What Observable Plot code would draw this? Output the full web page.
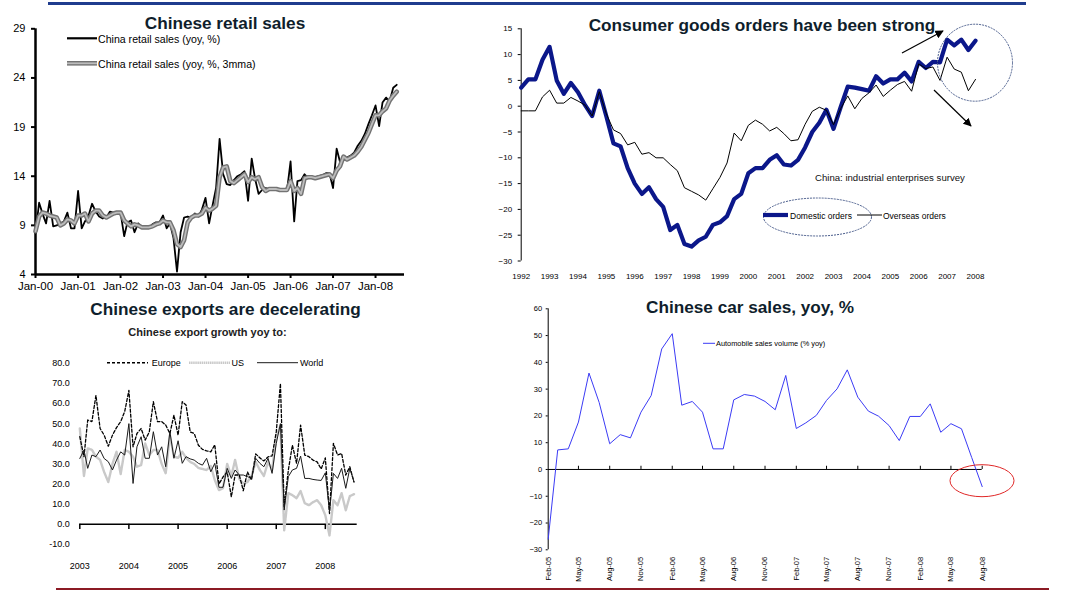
<!DOCTYPE html>
<html><head><meta charset="utf-8">
<script src="https://cdn.jsdelivr.net/npm/d3@7"></script>
<script src="https://cdn.jsdelivr.net/npm/@observablehq/plot@0.6"></script>
<style>
html,body{margin:0;padding:0;background:#fff;}
#root{position:relative;width:1065px;height:591px;overflow:hidden;background:#fff;font-family:"Liberation Sans",Arial,sans-serif;}
.panel{position:absolute;}
#overlay{position:absolute;left:0;top:0;pointer-events:none;}
</style></head><body><div id="root"></div>
<script>
// ---------- Panel 1: Chinese retail sales (monthly from Jan-00) ----------
const retailYoy = [
  8.2, 11.3, 10.2, 9.2, 11.5, 8.9, 9.0, 9.2, 9.4, 10.3, 8.7, 8.7,
  12.5, 8.7, 9.4, 10.0, 11.2, 10.4, 9.9, 9.7, 9.8, 10.4, 10.3, 10.2,
  10.3, 7.9, 9.3, 9.5, 8.3, 9.2, 8.8, 8.8, 8.8, 9.1, 9.3, 9.3,
  10.0, 8.7, 9.2, 7.7, 4.3, 8.3, 9.8, 9.9, 9.8, 10.2, 9.9, 10.6,
  11.8, 9.2, 11.0, 12.8, 17.8, 14.2, 13.2, 13.1, 13.6, 14.0, 14.2, 14.5,
  11.5, 15.8, 13.8, 12.2, 12.6, 12.8, 12.7, 12.7, 12.6, 12.6, 12.6, 12.5,
  15.5, 9.4, 13.5, 13.6, 14.2, 13.8, 13.8, 13.9, 14.0, 14.1, 14.3, 14.3,
  12.8, 16.8, 15.5, 15.8, 15.9, 16.1, 16.4, 17.1, 17.6, 18.3, 19.3, 20.2,
  21.2, 19.1, 21.5, 22.0, 21.6, 23.0, 23.3
];
const retail3mma = [
  8.4, 9.9, 10.3, 10.2, 10.0, 9.9, 9.8, 9.0, 9.2, 9.6, 9.5, 9.2,
  10.0, 10.0, 10.2, 9.4, 10.2, 10.5, 10.5, 10.0, 9.8, 10.0, 10.2, 10.3,
  10.3, 9.5, 9.2, 8.9, 9.1, 9.0, 8.8, 8.8, 8.8, 8.9, 9.1, 9.2,
  9.5, 9.3, 9.3, 8.5, 7.1, 6.8, 7.5, 9.3, 9.8, 10.0, 10.0, 10.2,
  10.8, 10.5, 10.7, 11.0, 13.9, 14.9, 15.0, 13.5, 13.3, 13.6, 13.9, 14.2,
  13.4, 13.9, 13.7, 13.9, 12.9, 12.5, 12.7, 12.7, 12.7, 12.6, 12.6, 12.6,
  13.5, 12.5, 12.8, 12.2, 13.8, 13.9, 13.9, 13.8, 13.9, 14.0, 14.1, 14.2,
  13.8, 14.6, 15.0, 16.0, 15.7, 15.9, 16.1, 16.5, 17.0, 17.7, 18.4, 19.3,
  20.2, 20.2, 20.6, 20.9, 21.7, 22.2, 22.6
];
const retailYTicks = [4, 9, 14, 19, 24, 29];
const retailXTickYears = [2000, 2001, 2002, 2003, 2004, 2005, 2006, 2007, 2008];

// ---------- Panel 2: Consumer goods orders (quarterly from 1992Q1) ----------
const domesticOrders = [
  3.6, 5.2, 5.2, 9.0,   11.5, 5.0, 2.4, 4.5,   2.7, 0.2, -1.9, 3.0,
  -2.0, -7.2, -7.8, -12.0,   -15.0, -17.0, -15.7, -18.0,   -19.5, -24.0, -23.0, -26.7,
  -27.2, -26.0, -25.3, -23.0,   -22.5, -21.3, -18.0, -17.0,   -13.0, -12.0, -12.0, -10.4,
  -9.5, -11.3, -11.5, -10.4,   -8.0, -5.0, -3.2, -0.7,   -4.4, -0.2, 3.8, 3.6,
  3.3, 3.0, 5.8, 4.4,   5.2, 5.2, 6.5, 4.8,   8.6, 7.4, 8.6, 8.5,
  12.9, 11.8, 12.9, 10.9,   12.7
];
const overseasOrders = [
  -0.9, -0.9, -0.9, 1.8,   3.1, 0.6, 0.6, 1.7,   1.0, 0.2, -1.9, 2.8,
  -1.5, -4.6, -5.3, -7.5,   -7.0, -9.3, -9.0, -10.0,   -10.0, -11.3, -12.5, -15.8,
  -16.5, -17.2, -18.2, -16.0,   -13.8, -11.0, -5.2, -6.7,   -3.7, -2.7, -3.5, -4.8,
  -4.1, -5.3, -6.7, -6.5,   -3.5, -1.0, -0.2, -0.8,   -3.6, -0.5, 2.0, -0.5,
  1.5, 2.6, 4.1, 1.9,   3.1, 4.2, 4.8, 2.9,   8.2, 7.3, 7.6, 5.0,
  9.5, 7.2, 6.6, 3.0,   5.2
];
const orderYears = [1992,1993,1994,1995,1996,1997,1998,1999,2000,2001,2002,2003,2004,2005,2006,2007,2008];
const orderYTicks = [-30, -25, -20, -15, -10, -5, 0, 5, 10, 15];

// ---------- Panel 3: Chinese exports (monthly from Jan-03) ----------
const exportEurope = [
  43.5, 33.6, 51.8, 51.0, 64.0, 47.6, 44.3, 38.8, 44.3, 48.0, 51.0, 56.0,
  66.5, 38.5, 45.1, 47.6, 41.8, 45.9, 60.9, 51.0, 51.0, 49.3, 45.1, 54.2,
  44.3, 60.9, 59.2, 45.9, 45.1, 39.3, 37.2, 36.5, 36.0, 39.5, 20.0, 23.5,
  26.0, 13.7, 24.5, 24.5, 16.7, 26.0, 22.0, 35.0, 33.0, 31.5, 33.5, 34.0,
  45.9, 69.9, 8.7, 27.0, 39.3, 30.3, 49.3, 34.4, 33.6, 31.9, 31.0, 27.5,
  33.0, 5.4, 40.2, 34.4, 35.2, 24.5, 28.6, 21.0
];
const exportUS = [
  47.6, 24.0, 37.7, 37.0, 33.6, 32.0, 26.0, 21.0, 30.0, 36.0, 25.0, 37.0,
  36.0, 33.6, 28.6, 29.4, 40.2, 34.4, 36.9, 36.9, 30.0, 25.3, 44.3, 33.6,
  33.0, 36.0, 33.0, 31.0, 30.0, 28.0, 27.5, 27.0, 29.0, 22.0, 17.0, 18.0,
  30.0, 24.0, 32.0, 22.5, 20.3, 21.0, 24.0, 31.0, 27.0, 24.0, 31.0, 27.0,
  43.5, 49.0, -3.0, 15.5, 14.5, 13.0, 16.5, 10.5, 9.5, 11.0, 12.0, 9.5,
  4.5, -5.5, 12.0, 9.5, 15.5, 7.0, 14.0, 15.0
];
const exportWorld = [
  32.7, 36.9, 27.8, 34.4, 33.6, 36.9, 32.7, 31.1, 27.0, 31.9, 36.0, 34.4,
  50.0, 20.3, 38.5, 43.5, 32.8, 32.8, 46.0, 34.4, 38.5, 28.6, 46.0, 32.8,
  41.5, 30.3, 33.6, 32.5, 31.9, 30.3, 29.4, 32.8, 26.1, 30.3, 18.4, 18.4,
  27.8, 22.8, 27.0, 24.5, 24.5, 23.7, 22.8, 32.8, 30.3, 28.6, 32.8, 25.3,
  40.2, 50.0, 7.1, 23.7, 27.0, 27.8, 33.9, 22.8, 22.8, 22.3, 22.0, 21.8,
  25.6, 6.3, 25.3, 22.8, 27.8, 17.9, 27.8, 21.2
];
const exportYears = [2003, 2004, 2005, 2006, 2007, 2008];
const exportYTicks = [-10, 0, 10, 20, 30, 40, 50, 60, 70, 80];

// ---------- Panel 4: Chinese car sales (monthly from Feb-05) ----------
const carSales = [
  -26.0, 7.3, 7.7, 17.7, 36.0, 25.0, 9.6, 13.0, 11.8, 21.4, 27.6,
  45.0, 50.7, 24.0, 25.4, 21.4, 7.7, 7.7, 26.0, 28.0, 27.4, 25.4, 22.3,
  35.1, 15.3, 17.4, 20.2, 25.8, 30.1, 37.2, 27.0, 21.8, 19.9, 16.4, 10.8,
  19.8, 19.8, 24.5, 13.9, 17.1, 15.2, 4.5, -6.4
];
const carTickLabels = ["Feb-05","May-05","Aug-05","Nov-05","Feb-06","May-06","Aug-06","Nov-06","Feb-07","May-07","Aug-07","Nov-07","Feb-08","May-08","Aug-08"];
const carYTicks = [-30, -20, -10, 0, 10, 20, 30, 40, 50, 60];

// ---------- helpers ----------
const FONT = '"Liberation Sans", Arial, sans-serif';
const mkDate = (y, m) => new Date(Date.UTC(y, m, 1));
const root = document.getElementById("root");
function place(svg, left, top, w) {
  const d = document.createElement("div");
  d.className = "panel";
  d.style.left = left + "px"; d.style.top = top + "px"; d.style.width = w + "px";
  d.appendChild(svg); root.appendChild(d);
}
const baseStyle = (fs) => ({background: "transparent", fontFamily: FONT, fontSize: fs, color: "#000", overflow: "visible"});

// ---------- Panel 1 ----------
const retailRows = retailYoy.map((v, i) => ({date: mkDate(2000, i), yoy: v, mma: retail3mma[i]}));
const p1 = Plot.plot({
  width: 420, height: 300,
  marginLeft: 35, marginRight: 16, marginTop: 28.3, marginBottom: 26,
  style: baseStyle("11px"),
  x: {type: "utc", domain: [mkDate(2000, 0), new Date(Date.UTC(2008, 8, 6))]},
  y: {domain: [4, 29]},
  marks: [
    Plot.axisY({ticks: retailYTicks, tickSize: 4, tickPadding: 6, strokeWidth: 2, label: null}),
    Plot.axisX({ticks: retailXTickYears.map(y => mkDate(y, 0)), tickFormat: d => "Jan-" + String(d.getUTCFullYear()).slice(2), tickSize: 4, tickPadding: 3, strokeWidth: 2, fontSize: 11.5, label: null}),
    Plot.ruleX([mkDate(2000, 0)], {stroke: "#000", strokeWidth: 2.5}),
    Plot.ruleY([4], {stroke: "#000", strokeWidth: 2.5}),
    Plot.line(retailRows, {x: "date", y: "yoy", stroke: "#000", strokeWidth: 1.8}),
    Plot.line(retailRows, {x: "date", y: "mma", stroke: "#737373", strokeWidth: 4.6}),
    Plot.line(retailRows, {x: "date", y: "mma", stroke: "#bcbcbc", strokeWidth: 1.8})
  ]
});
place(p1, 0, 0, 420);

// ---------- Panel 2 ----------
const orderRows = domesticOrders.map((v, i) => ({t: 1992 + i / 4, dom: v, ovs: overseasOrders[i]}));
const p2 = Plot.plot({
  width: 560, height: 300,
  marginLeft: 40.7, marginRight: 65, marginTop: 28.3, marginBottom: 39.5,
  style: baseStyle("8px"),
  x: {domain: [1992, 2008]},
  y: {domain: [-30, 15]},
  marks: [
    Plot.axisY({ticks: orderYTicks, tickSize: 3, tickPadding: 6, label: null}),
    Plot.axisX({ticks: orderYears, tickFormat: d => String(d), tickSize: 0, tickPadding: 12, label: null}),
    Plot.ruleX([1992], {stroke: "#000", strokeWidth: 1}),
    Plot.line(orderRows, {x: "t", y: "dom", stroke: "#0b178a", strokeWidth: 4.2}),
    Plot.line(orderRows, {x: "t", y: "ovs", stroke: "#000", strokeWidth: 1})
  ]
});
place(p2, 480, 0, 560);

// ---------- Panel 3 ----------
const exportRows = exportWorld.map((v, i) => ({date: mkDate(2003, i), eu: exportEurope[i], us: exportUS[i], world: v}));
const exportTickDates = exportYears.map(y => mkDate(y, 0));
const p3 = Plot.plot({
  width: 380, height: 290,
  marginLeft: 79.3, marginRight: 23.3, marginTop: 62.7, marginBottom: 46,
  style: baseStyle("9px"),
  x: {type: "utc", domain: [mkDate(2003, 0), new Date(Date.UTC(2008, 7, 25))]},
  y: {domain: [-10, 80]},
  marks: [
    Plot.axisY({ticks: exportYTicks, tickFormat: d => d.toFixed(1), tickSize: 0, tickPadding: 10, label: null}),
    Plot.axisX({ticks: exportTickDates, tickFormat: d => String(d.getUTCFullYear()), tickSize: 0, tickPadding: 18, label: null}),
    Plot.ruleY([0], {stroke: "#000", strokeWidth: 1.5}),
    Plot.ruleX(exportTickDates, {x: d => d, y1: 0, y2: -2.6, stroke: "#000", strokeWidth: 1.5}),
    Plot.line(exportRows, {x: "date", y: "us", stroke: "#c9c9c9", strokeWidth: 2.4, strokeDasharray: "1.5,0.6"}),
    Plot.line(exportRows, {x: "date", y: "eu", stroke: "#000", strokeWidth: 1.3, strokeDasharray: "3,2"}),
    Plot.line(exportRows, {x: "date", y: "world", stroke: "#1a1a1a", strokeWidth: 1})
  ]
});
place(p3, 0, 300, 380);

// ---------- Panel 4 ----------
const parseMon = d3.utcParse("%b-%y");
const carRows = carSales.map((v, i) => ({date: mkDate(2005, 1 + i), v}));
const carTickDates = carTickLabels.map(parseMon);
const p4 = Plot.plot({
  width: 520, height: 301,
  marginLeft: 47.7, marginRight: 38.3, marginTop: 18.3, marginBottom: 41.7,
  style: baseStyle("7.5px"),
  x: {type: "utc", domain: [mkDate(2005, 1), mkDate(2008, 7)]},
  y: {domain: [-30, 60]},
  marks: [
    Plot.axisY({ticks: carYTicks, tickSize: 2, tickPadding: 4, label: null}),
    Plot.axisX({ticks: carTickDates, tickFormat: d3.utcFormat("%b-%y"), tickRotate: -90, tickSize: 0, tickPadding: 7, label: null}),
    Plot.ruleX([mkDate(2005, 1)], {stroke: "#000", strokeWidth: 1}),
    Plot.ruleY([0], {stroke: "#000", strokeWidth: 1}),
    Plot.ruleX(carTickDates.slice(1), {x: d => d, y1: 0, y2: 1.2, stroke: "#000", strokeWidth: 1}),
    Plot.line(carRows, {x: "date", y: "v", stroke: "#3b3bf5", strokeWidth: 1})
  ]
});
place(p4, 500, 290, 520);

// ---------- Overlay: titles, legends, annotations, page rules ----------
const NS = "http://www.w3.org/2000/svg";
const ov = document.createElementNS(NS, "svg");
ov.setAttribute("id", "overlay");
ov.setAttribute("width", 1065); ov.setAttribute("height", 591);
ov.innerHTML = `
<defs>
  <marker id="ah" viewBox="0 0 10 10" refX="9" refY="5" markerWidth="7" markerHeight="7" orient="auto">
    <path d="M0,0 L10,5 L0,10 z" fill="#000"/>
  </marker>
</defs>
<line x1="48" y1="3.5" x2="1026" y2="3.5" stroke="#1f3c8e" stroke-width="3"/>
<line x1="56" y1="589" x2="1049" y2="589" stroke="#8b1a24" stroke-width="2"/>
<g font-family='${FONT}' font-weight="bold" font-size="17.2" fill="#0f1e2c" text-anchor="middle" dominant-baseline="central">
  <text x="225" y="23">Chinese retail sales</text>
  <text x="762" y="25">Consumer goods orders have been strong</text>
  <text x="225.5" y="308.5">Chinese exports are decelerating</text>
  <text x="750" y="307">Chinese car sales, yoy, %</text>
</g>
<text x="207.5" y="332" font-family='${FONT}' font-weight="bold" font-size="11" fill="#222" text-anchor="middle" dominant-baseline="central">Chinese export growth yoy to:</text>

<line x1="67" y1="38.3" x2="97" y2="38.3" stroke="#000" stroke-width="2.2"/>
<text x="98" y="38.5" font-family='${FONT}' font-size="10.6" fill="#000" dominant-baseline="central">China retail sales (yoy, %)</text>
<line x1="67" y1="63.3" x2="97" y2="63.3" stroke="#737373" stroke-width="4.6"/>
<line x1="67" y1="63.3" x2="97" y2="63.3" stroke="#bcbcbc" stroke-width="1.8"/>
<text x="98" y="63.5" font-family='${FONT}' font-size="10.6" fill="#000" dominant-baseline="central">China retail sales (yoy, %, 3mma)</text>

<text x="815" y="177.5" font-family='${FONT}' font-size="9.6" fill="#111" dominant-baseline="central">China: industrial enterprises survey</text>
<ellipse cx="817.5" cy="217" rx="54" ry="19" fill="none" stroke="#4a5d8c" stroke-width="1" stroke-dasharray="2,1"/>
<line x1="763" y1="215" x2="788" y2="215" stroke="#0b178a" stroke-width="4.2"/>
<text x="790" y="215.5" font-family='${FONT}' font-size="8.5" fill="#000" dominant-baseline="central">Domestic orders</text>
<line x1="857" y1="215" x2="882" y2="215" stroke="#000" stroke-width="1"/>
<text x="883" y="215.5" font-family='${FONT}' font-size="8.5" fill="#000" dominant-baseline="central">Overseas orders</text>
<ellipse cx="975" cy="62.7" rx="37.5" ry="38.5" fill="none" stroke="#4a5d8c" stroke-width="1" stroke-dasharray="2,1"/>
<line x1="902" y1="53" x2="943" y2="31" stroke="#000" stroke-width="1.2" marker-end="url(#ah)"/>
<line x1="934" y1="90" x2="971" y2="126" stroke="#000" stroke-width="1.2" marker-end="url(#ah)"/>

<line x1="107" y1="362.7" x2="148" y2="362.7" stroke="#000" stroke-width="1.4" stroke-dasharray="3,2"/>
<text x="151.7" y="363" font-family='${FONT}' font-size="9" fill="#000" dominant-baseline="central">Europe</text>
<line x1="189" y1="362.7" x2="230" y2="362.7" stroke="#c9c9c9" stroke-width="2.4" stroke-dasharray="1.5,0.6"/>
<text x="231.5" y="363" font-family='${FONT}' font-size="9" fill="#000" dominant-baseline="central">US</text>
<line x1="257" y1="362.7" x2="298" y2="362.7" stroke="#1a1a1a" stroke-width="1"/>
<text x="300" y="363" font-family='${FONT}' font-size="9" fill="#000" dominant-baseline="central">World</text>

<line x1="703" y1="343.3" x2="715" y2="343.3" stroke="#3b3bf5" stroke-width="1"/>
<text x="716" y="343.5" font-family='${FONT}' font-size="7.4" fill="#000" dominant-baseline="central">Automobile sales volume (% yoy)</text>
<ellipse cx="982" cy="480.7" rx="32" ry="16" fill="none" stroke="#e02828" stroke-width="1"/>
`;
root.appendChild(ov);
</script>
</body></html>
